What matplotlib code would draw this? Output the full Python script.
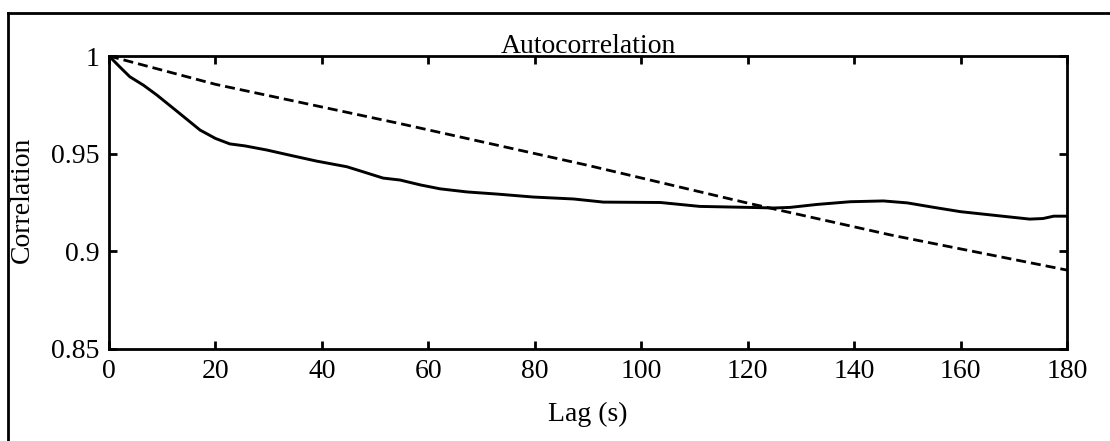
import matplotlib
matplotlib.use("Agg")
import matplotlib.pyplot as plt
from matplotlib.lines import Line2D

plt.rcParams['font.family'] = ['Liberation Serif', 'DejaVu Serif']

# Data
lag_solid = [0, 2, 3.9, 6.5, 9.0, 13.0, 17.1, 20.0, 22.7, 25.5, 29.6, 34.0, 39.0,
             44.7, 48.0, 51.5, 54.7, 58.5, 62.2, 67.3, 73.0, 79.7, 87.3, 92.9,
             103.6, 111, 120, 125, 128, 133, 139.3, 145.5, 150, 155, 160,
             167.5, 173, 175.5, 177.5, 180]
corr_solid = [1.0, 0.9945, 0.9894, 0.9850, 0.980, 0.9712, 0.9621, 0.9578, 0.955,
              0.9540, 0.9519, 0.9492, 0.9462, 0.9433, 0.9405, 0.9375, 0.9365,
              0.9340, 0.9320, 0.9304, 0.9293, 0.9278, 0.9268, 0.9252, 0.9250,
              0.9230, 0.9225, 0.9222, 0.9225, 0.9240, 0.9254, 0.9258, 0.9248,
              0.9225, 0.9203, 0.9181, 0.9165, 0.9168, 0.918, 0.918]
lag_dash = [0, 20, 55, 90, 120, 147, 180]
corr_dash = [1.0, 0.9855, 0.9652, 0.944, 0.9247, 0.9083, 0.8904]

xticks = [0, 20, 40, 60, 80, 100, 120, 140, 160, 180]
yticks = [0.85, 0.9, 0.95, 1.0]
ytick_labels = ['0.85', '0.9', '0.95', '1']

fig = plt.figure(figsize=(11.1, 4.41), dpi=100)
ax = fig.add_axes([109/1110, 1 - 349/441, (1067 - 109)/1110, (349 - 56)/441])

ax.plot(lag_solid, corr_solid, color='black', linewidth=2.1,
        solid_joinstyle='round', solid_capstyle='round')
ax.plot(lag_dash, corr_dash, color='black', linewidth=2.0, linestyle=(0, (3.6, 1.8)))

ax.set_xlim(0, 180)
ax.set_ylim(0.85, 1.0)
ax.set_xticks(xticks)
ax.set_xticklabels([str(t) for t in xticks])
ax.set_yticks(yticks)
ax.set_yticklabels(ytick_labels)

for s in ax.spines.values():
    s.set_linewidth(2.0)
ax.tick_params(direction='in', length=6, width=2.0, top=True, right=True,
               labelsize=20, pad=7)

ax.set_title('Autocorrelation', fontsize=20, pad=2)
ax.set_xlabel('Lag (s)', fontsize=20)
ax.set_ylabel('Correlation', fontsize=20)
ax.xaxis.set_label_coords(0.5, -0.18)
ax.yaxis.set_label_coords(-0.077, 0.51)

# outer frame (top and left edges visible in reference)
fig.add_artist(Line2D([8/1110, 1.0], [1 - 13/441, 1 - 13/441], transform=fig.transFigure,
                      color='black', linewidth=2.0))
fig.add_artist(Line2D([8/1110, 8/1110], [0.0, 1 - 13/441], transform=fig.transFigure,
                      color='black', linewidth=2.0))

fig.savefig('out.png', dpi=100)
